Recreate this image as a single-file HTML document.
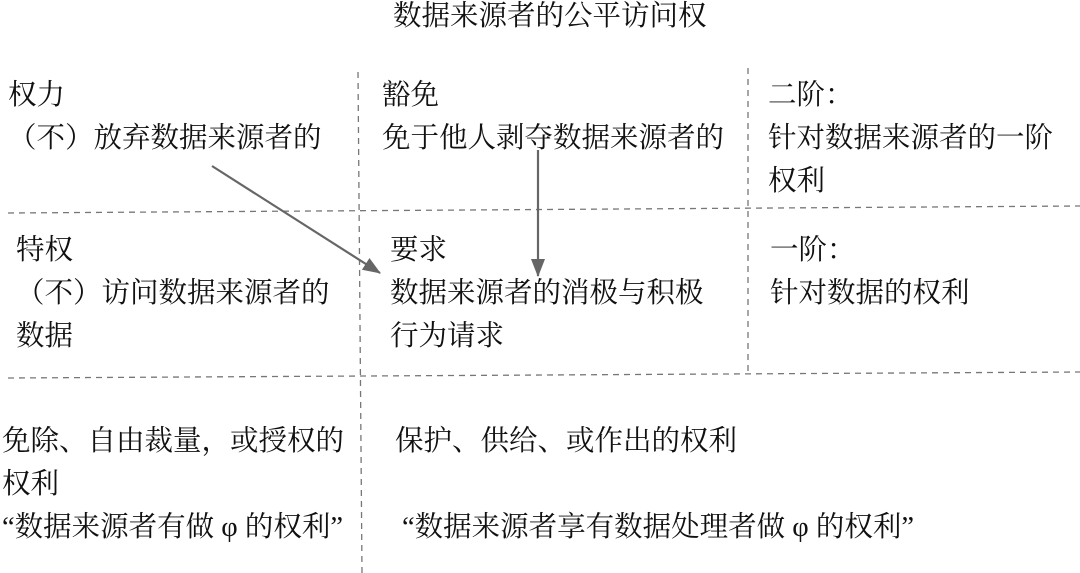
<!DOCTYPE html>
<html><head><meta charset="utf-8"><style>
body{margin:0;width:1080px;height:573px;background:#fff;position:relative;overflow:hidden;font-family:"Liberation Serif","Noto Serif CJK SC",serif;color:#111;}
.t{position:absolute;font-size:28.5px;line-height:43px;white-space:nowrap;}
svg{position:absolute;left:0;top:0;}
</style></head><body>
<svg width="1080" height="573">
<defs><marker id="b" markerWidth="18" markerHeight="18" refX="17" refY="9" orient="auto" markerUnits="userSpaceOnUse" viewBox="0 0 18 18"><path d="M0,2 L18,9 L0,16z" fill="#666"/></marker></defs>
<g stroke="#777" stroke-width="1.3" stroke-dasharray="6,5" fill="none">
<line x1="358" y1="72" x2="362" y2="573"/>
<line x1="748" y1="68" x2="748" y2="372"/>
<line x1="8" y1="213" x2="1080" y2="206"/>
<line x1="8" y1="378" x2="1080" y2="372"/>
</g>
<g stroke="#666" stroke-width="2.2" fill="none">
<line x1="212" y1="166" x2="380" y2="273" marker-end="url(#b)"/>
<line x1="538" y1="150" x2="538" y2="276" marker-end="url(#b)"/>
</g>
</svg>
<div class="t" style="left:393px;top:-5px">数据来源者的公平访问权</div>
<div class="t" style="left:8px;top:74px">权力<br>（不）放弃数据来源者的</div>
<div class="t" style="left:382px;top:74px">豁免<br>免于他人剥夺数据来源者的</div>
<div class="t" style="left:768px;top:74px">二阶：<br>针对数据来源者的一阶<br>权利</div>
<div class="t" style="left:16px;top:229px">特权<br>（不）访问数据来源者的<br>数据</div>
<div class="t" style="left:390px;top:229px">要求<br>数据来源者的消极与积极<br>行为请求</div>
<div class="t" style="left:770px;top:229px">一阶：<br>针对数据的权利</div>
<div class="t" style="left:2px;top:420px">免除、自由裁量，或授权的<br>权利<br>“数据来源者有做 φ 的权利”</div>
<div class="t" style="left:395px;top:420px">保护、供给、或作出的权利</div>
<div class="t" style="left:402px;top:506px">“数据来源者享有数据处理者做 φ 的权利”</div>
</body></html>
